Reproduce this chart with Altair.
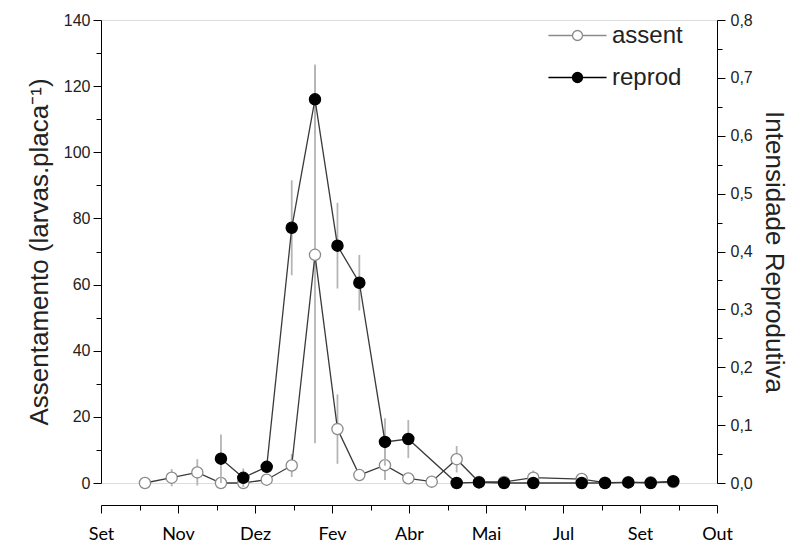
import altair as alt
import pandas as pd

month_labels = ['Set', 'Nov', 'Dez', 'Fev', 'Abr', 'Mai', 'Jul', 'Set', 'Out']

assent_x = [0.571, 0.918, 1.251, 1.558, 1.848, 2.152, 2.477, 2.779, 3.071, 3.355, 3.688,
            3.991, 4.295, 4.619, 4.909, 5.234, 5.614, 6.243, 6.545, 6.848, 7.139, 7.432]
assent_y = [0.0, 1.6, 3.2, 0.0, 0.0, 1.0, 5.3, 69.0, 16.3, 2.4, 5.4,
            1.4, 0.4, 7.2, 0.3, 0.3, 1.6, 1.2, 0.1, 0.2, 0.2, 0.3]
assent_err = [0.5, 2.6, 4.0, 0.5, 1.0, 1.5, 3.5, 57.0, 10.5, 1.8, 4.5,
              1.0, 1.0, 4.0, 0.5, 1.0, 2.2, 1.0, 0.3, 0.3, 0.3, 0.3]

reprod_x = [1.558, 1.848, 2.152, 2.477, 2.779, 3.071, 3.355, 3.688, 3.991,
            4.619, 4.909, 5.234, 5.614, 6.243, 6.545, 6.848, 7.139, 7.432]
reprod_y = [0.042, 0.009, 0.028, 0.441, 0.663, 0.410, 0.346, 0.071, 0.076,
            0.0, 0.001, 0.0, 0.0, 0.0, 0.0, 0.001, 0.0, 0.003]
reprod_err = [0.042, 0.016, 0.010, 0.082, 0.060, 0.074, 0.048, 0.041, 0.033,
              0.0, 0.0, 0.003, 0.0, 0.0, 0.0, 0.0, 0.0, 0.0]

a = pd.DataFrame({'x': assent_x, 'v': assent_y, 'err': assent_err})
a['series'] = 'assent'
a['lo'] = a['v'] - a['err']
a['hi'] = a['v'] + a['err']
r = pd.DataFrame({'x': reprod_x, 'v': reprod_y, 'err': reprod_err})
r['series'] = 'reprod'
r['lo'] = r['v'] - r['err']
r['hi'] = r['v'] + r['err']

LFONT = 'Liberation Sans'

label_arr = "[" + ",".join("'%s'" % m for m in month_labels) + "]"
x_axis = alt.Axis(
    values=[i * 0.5 for i in range(17)],
    labelExpr="datum.value % 1 === 0 ? " + label_arr + "[datum.value] : ''",
    tickSize={"condition": {"test": "datum.value % 1 === 0", "value": 8}, "value": 5},
    offset=22, grid=False, title=None, labelFont='Lato', labelFontSize=18,
    labelPadding=12, labelColor='black', domainColor='black', tickColor='black',
    labelFlush=False, labelOverlap=False,
)
X = alt.X('x:Q', scale=alt.Scale(domain=[0, 8], nice=False, zero=False), axis=x_axis)

left_axis = alt.Axis(
    values=list(range(0, 141, 10)),
    labelExpr="datum.value % 20 === 0 ? datum.label : ''",
    tickSize={"condition": {"test": "datum.value % 20 === 0", "value": 8}, "value": 5},
    orient='left', grid=False, title='Assentamento (larvas.placa⁻¹)',
    labelFont=LFONT, labelFontSize=16, labelColor='#222', labelPadding=3,
    titleFont=LFONT, titleFontSize=26, titleFontWeight='normal', titleColor='#222',
    titlePadding=11, domainColor='black', tickColor='black', labelOverlap=False,
)
right_axis = alt.Axis(
    values=[round(i * 0.05, 2) for i in range(17)],
    labelExpr="abs(datum.value*10 - round(datum.value*10)) < 0.001 ? replace(format(datum.value, '.1f'), '.', ',') : ''",
    tickSize={"condition": {"test": "abs(datum.value*10 - round(datum.value*10)) < 0.001", "value": 8}, "value": 5},
    orient='right', grid=False, title='Intensidade Reprodutiva',
    labelFont=LFONT, labelFontSize=16, labelColor='#222', labelPadding=5,
    titleFont=LFONT, titleFontSize=26, titleFontWeight='normal', titleColor='#222',
    titlePadding=8, domainColor='black', tickColor='black', labelOverlap=False,
)

YL_scale = alt.Scale(domain=[0, 140], nice=False)
YR_scale = alt.Scale(domain=[0, 0.8], nice=False)

legend_path = "M-2.5,0L-0.43,0M0.43,0L2.5,0M0.43,0A0.43,0.43,0,1,1,-0.43,0A0.43,0.43,0,1,1,0.43,0"
legend = alt.Legend(title=None, orient='none', legendX=464, legendY=3,
                    symbolType=legend_path, symbolSize=540, symbolStrokeWidth=1.3,
                    labelFont=LFONT, labelFontSize=24, labelColor='#222',
                    labelOffset=22, rowPadding=17, symbolOffset=0)
FILL = alt.Fill('series:N', scale=alt.Scale(domain=['assent', 'reprod'], range=['white', 'black']),
                legend=legend)
STROKE = alt.Stroke('series:N', scale=alt.Scale(domain=['assent', 'reprod'], range=['#8a8a8a', 'black']),
                    legend=legend)


def series_layer(df, scale, axis):
    base = alt.Chart(df)
    err = base.mark_rule(color='#b5b5b5', strokeWidth=1.8).encode(
        x=X, y=alt.Y('lo:Q', scale=scale, axis=axis), y2='hi:Q')
    line = base.mark_line(color='#3a3a3a', strokeWidth=1.3).encode(
        x=X, y=alt.Y('v:Q', scale=scale, axis=axis))
    pts = base.mark_point(shape='circle', size=125, opacity=1, filled=False, strokeWidth=1.3).encode(
        x=X, y=alt.Y('v:Q', scale=scale, axis=axis), fill=FILL, stroke=STROKE)
    return alt.layer(err, line, pts)


left = series_layer(a, YL_scale, left_axis)
right = series_layer(r, YR_scale, right_axis)

chart = alt.layer(left, right).resolve_scale(y='independent').properties(
    width=616, height=463,
    autosize=alt.AutoSizeParams(type='none'),
    padding={'left': 93, 'top': 12, 'right': 72, 'bottom': 68},
).configure_view(stroke=None).configure(background='white')

chart.save("out.html", embed_options={"renderer": "svg", "actions": False})
